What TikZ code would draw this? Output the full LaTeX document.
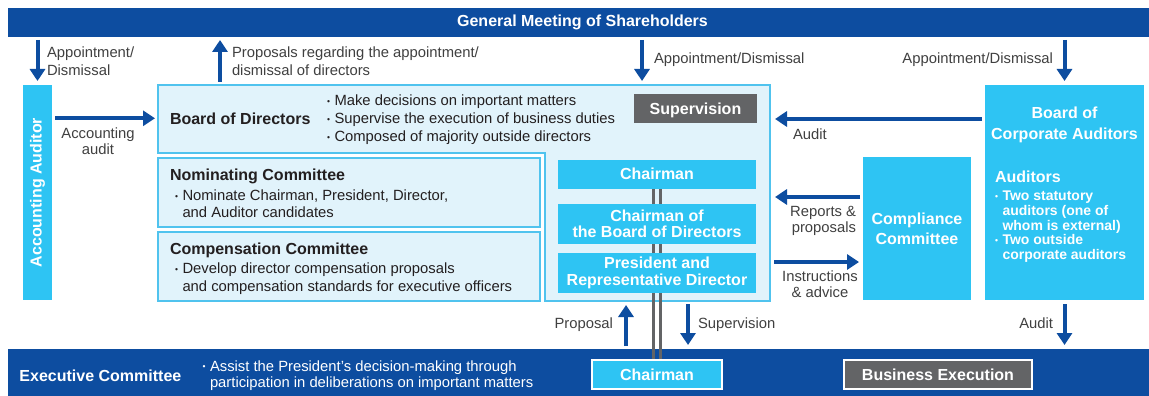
\documentclass[tikz,border=0pt]{standalone}
\usepackage{fontspec}
\setmainfont{Liberation Sans}
\usetikzlibrary{arrows.meta}
\definecolor{dkblue}{RGB}{13,77,160}
\definecolor{skyfill}{RGB}{46,196,243}
\definecolor{paleblue}{RGB}{225,243,251}
\definecolor{edgeblue}{RGB}{80,195,238}
\definecolor{slate}{RGB}{99,100,102}
\definecolor{ink}{RGB}{35,31,32}
\definecolor{labelgray}{RGB}{64,64,64}
% bullet with a fixed width, and the matching indent for wrapped lines
\newcommand{\bdot}{\makebox[7.5pt][l]{\raisebox{1.6pt}{\fontsize{8.5}{8.5}\selectfont •}}}
\newcommand{\bind}{\hspace*{7.5pt}}

\begin{document}
\begin{tikzpicture}[x=1pt,y=-1pt,
  every node/.style={inner sep=0pt, outer sep=0pt},
  band/.style={fill=dkblue, draw=none},
  skybox/.style={fill=skyfill, draw=none, text=white, align=center, font=\bfseries\fontsize{16}{16.3}\selectfont},
  slatebox/.style={fill=slate, text=white, font=\bfseries\fontsize{16}{19}\selectfont},
  palebox/.style={fill=paleblue, draw=edgeblue, line width=1.5pt},
  headtxt/.style={text=ink, font=\bfseries\fontsize{16}{19}\selectfont, anchor=west},
  body/.style={text=ink, font=\fontsize{14.8}{18}\selectfont, align=left, anchor=west},
  lbl/.style={text=labelgray, font=\fontsize{14.8}{18}\selectfont},
  flow/.style={draw=dkblue, line width=4pt, -{Triangle[width=15pt,length=12pt]}},
  twin/.style={draw=slate, line width=3.8pt},
]
\useasboundingbox (0,0) rectangle (1149,396);
\fill[white] (0,0) rectangle (1149,396);

% horizontal bands
\node[band, minimum width=1141pt, minimum height=29pt] (gms) at (578.5,22.5) {};
\node[text=white, font=\bfseries\fontsize{16}{19}\selectfont] (gmstxt) at (582.5,22.5) {General Meeting of Shareholders};
\node[band, minimum width=1141pt, minimum height=47pt] (exec) at (578.5,372.5) {};

% board of directors outline (L-shaped)
\node[minimum width=612pt, minimum height=216pt] (board) at (464,193) {};
\filldraw[fill=paleblue, draw=edgeblue, line width=1.5pt]
  (board.north west) -- (board.north east) -- (board.south east)
  -- (545,301) -- (545,153) -- (158,153) -- cycle;

% accounting auditor
\node[fill=skyfill, minimum width=29pt, minimum height=215pt] (aa) at (37.5,192.5) {};
\node[rotate=90, text=white, font=\bfseries\fontsize{16}{19}\selectfont] (aatxt) at (aa.center) {Accounting Auditor};

% chairman link (double line)
\coordinate (chtop) at (657,174.25);
\coordinate (chbot) at (657,374.5);
\draw[twin] ([xshift=-3.5pt]chtop) -- ([xshift=-3.5pt]chbot);
\draw[twin] ([xshift=3.5pt]chtop) -- ([xshift=3.5pt]chbot);

% right column of the board
\node[skybox, minimum width=198pt, minimum height=28.5pt] (ch1) at (chtop) {Chairman};
\node[skybox, minimum width=198pt, minimum height=40pt] (chb) at (657,224) {Chairman of\\the Board of Directors};
\node[skybox, minimum width=198pt, minimum height=40pt] (pres) at (657,273) {President and\\Representative Director};
\node[slatebox, text height=11.5pt, text depth=0pt, minimum width=123pt, minimum height=29pt] (sup) at (695.5,108.5) {Supervision};

% bottom band boxes
\node[skybox, draw=white, line width=1.2pt, minimum width=130pt, minimum height=29pt] (ch2) at (chbot) {Chairman};
\node[slatebox, draw=white, line width=1.2pt, minimum width=188pt, minimum height=29pt] (biz) at (938,374.5) {Business Execution};

% compliance committee
\node[skybox, minimum width=108pt, minimum height=143pt, font=\bfseries\fontsize{16}{20}\selectfont] (comp) at (917,228.5) {Compliance\\Committee};

% board of corporate auditors
\node[fill=skyfill, minimum width=159pt, minimum height=215pt] (bca) at (1064.5,192.5) {};
\node[skybox, fill=none, font=\bfseries\fontsize{16}{20.5}\selectfont] (bcatitle) at (1064.5,124.7) {Board of\\Corporate Auditors};
\node[headtxt, text=white] (auds) at (995,176.7) {Auditors};
\node[anchor=west, align=left, text=white, font=\bfseries\fontsize{14}{14.6}\selectfont] (audlist) at (995,226.8)
  {\bdot Two statutory\\\bind auditors (one of\\\bind whom is external)\\\bdot Two outside\\\bind corporate auditors};

% committees
\node[palebox, minimum width=382pt, minimum height=69pt] (nom) at (349,192.5) {};
\node[headtxt] (nomtitle) at (170,176.5) {Nominating Committee};
\node[body, font=\fontsize{14.8}{17}\selectfont] (nomtxt) at (175,204)
  {\bdot Nominate Chairman, President, Director,\\\bind and Auditor candidates};
\node[palebox, minimum width=382pt, minimum height=69pt] (cmp) at (349,266.5) {};
\node[headtxt] (cmptitle) at (170,250) {Compensation Committee};
\node[body] (cmptxt) at (175,279)
  {\bdot Develop director compensation proposals\\\bind and compensation standards for executive officers};

% board text
\node[headtxt] (bod) at (170,118.3) {Board of Directors};
\node[body] (bodtxt) at (327,120)
  {\bdot Make decisions on important matters\\\bdot Supervise the execution of business duties\\\bdot Composed of majority outside directors};

% executive committee text
\node[headtxt, text=white] (exectitle) at (19.5,375.7) {Executive Committee};
\node[body, text=white, font=\fontsize{14.8}{16.5}\selectfont] (exectxt) at (202.5,375.5)
  {\bdot Assist the President’s decision-making through\\\bind participation in deliberations on important matters};

% connector labels
\node[lbl, anchor=west, align=left] (l1) at (47,61) {Appointment/\\Dismissal};
\node[lbl, anchor=west, align=left, font=\fontsize{14.8}{17.7}\selectfont] (l2) at (232,61) {Proposals regarding the appointment/\\dismissal of directors};
\node[lbl, anchor=west] (l3) at (654,60) {Appointment/Dismissal};
\node[lbl, anchor=east] (l4) at (1053,60) {Appointment/Dismissal};
\node[lbl, align=center, font=\fontsize{14.8}{16}\selectfont] (l5) at (98,141.5) {Accounting\\audit};
\node[lbl, anchor=west] (l6) at (793,134) {Audit};
\node[lbl, anchor=east, align=right, font=\fontsize{14.8}{16}\selectfont] (l7) at (856,220.5) {Reports \&\\proposals};
\node[lbl, align=center, font=\fontsize{14.8}{16}\selectfont] (l8) at (820,284) {Instructions\\\& advice};
\node[lbl, anchor=east] (l9) at (613,324.5) {Proposal};
\node[lbl, anchor=west] (l10) at (698,324.5) {Supervision};
\node[lbl, anchor=east] (l11) at (1053,323) {Audit};

% connector positions
\coordinate (xprop) at (220,0);
\coordinate (xdir) at (642,0);
\coordinate (xup) at (626,0);
\coordinate (xdown) at (688,0);
\coordinate (ybca) at (0,119);
\coordinate (yrep) at (0,197);
\coordinate (yins) at (0,262);

% connectors
\draw[flow, shorten <=3pt, shorten >=4pt] (gms.south -| aa.north) -- (aa.north);
\draw[flow, shorten <=3pt, shorten >=3pt] (board.north -| xprop) -- (gms.south -| xprop);
\draw[flow, shorten <=3pt, shorten >=4pt] (gms.south -| xdir) -- (board.north -| xdir);
\draw[flow, shorten <=3pt, shorten >=4pt] (gms.south -| bca.north) -- (bca.north);
\draw[flow, shorten <=3pt, shorten >=3pt] (aa.east |- bod) -- (board.west |- bod);
\draw[flow, shorten <=3pt, shorten >=5pt] (bca.west |- ybca) -- (board.east |- ybca);
\draw[flow, shorten <=3pt, shorten >=5pt] (comp.west |- yrep) -- (board.east |- yrep);
\draw[flow, shorten <=4pt, shorten >=4pt] (board.east |- yins) -- (comp.west |- yins);
\draw[flow, shorten <=3pt, shorten >=4pt] (exec.north -| xup) -- (board.south -| xup);
\draw[flow, shorten <=3pt, shorten >=4pt] (board.south -| xdown) -- (exec.north -| xdown);
\draw[flow, shorten <=4pt, shorten >=4pt] (bca.south) -- (exec.north -| bca.south);
\end{tikzpicture}
\end{document}
